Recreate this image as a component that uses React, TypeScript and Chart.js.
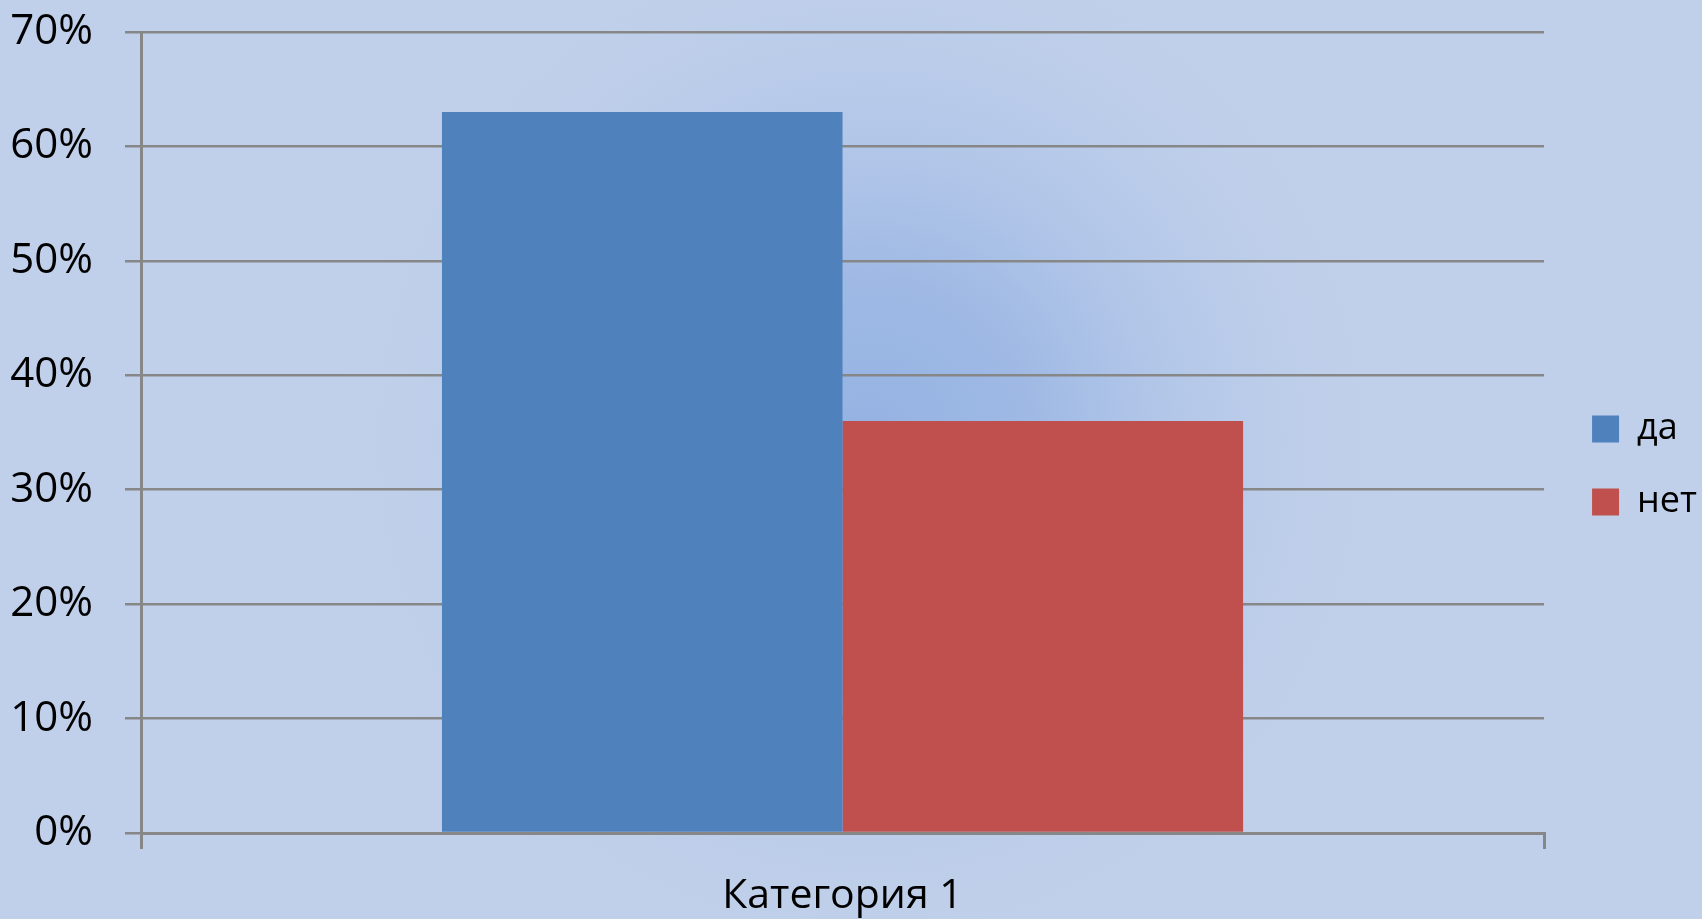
import React, { useEffect, useRef } from "react";
import { Chart, registerables } from "chart.js";

Chart.register(...registerables);

const categories = ["Категория 1"];
const seriesNames = ["да", "нет"];
const daValues = [63];
const netValues = [36];
const yTicks = [0, 10, 20, 30, 40, 50, 60, 70];

const W = 1702;
const H = 919;
const FONT = "'Open Sans', 'Noto Sans', sans-serif";
const GRID = "#878787";

const backgroundPlugin = {
  id: "bgGlow",
  beforeDraw(chart: any) {
    const { ctx, width, height } = chart;
    ctx.save();
    ctx.fillStyle = "#C0D0EA";
    ctx.fillRect(0, 0, width, height);
    const g = ctx.createRadialGradient(870, 440, 0, 870, 440, 540);
    g.addColorStop(0, "rgba(148,178,226,1)");
    g.addColorStop(0.3, "rgba(157,184,228,0.95)");
    g.addColorStop(0.65, "rgba(178,198,233,0.6)");
    g.addColorStop(1, "rgba(192,208,234,0)");
    ctx.fillStyle = g;
    ctx.fillRect(0, 0, width, height);
    ctx.restore();
  },
};

const legendShift = {
  id: "legendShift",
  afterLayout(chart: any) {
    const l = chart.legend;
    if (!l) return;
    l.left += 11;
    l.right += 11;
    l.top -= 10;
    l.bottom -= 10;
  },
};

export default function App() {
  const ref = useRef<HTMLCanvasElement | null>(null);
  useEffect(() => {
    if (!ref.current) return;
    const chart = new Chart(ref.current, {
      type: "bar",
      data: {
        labels: categories,
        datasets: [
          {
            label: seriesNames[0],
            data: daValues,
            backgroundColor: "#4F81BD",
            borderWidth: 0,
          },
          {
            label: seriesNames[1],
            data: netValues,
            backgroundColor: "#C0504D",
            borderWidth: 0,
          },
        ],
      },
      options: {
        responsive: false,
        animation: false,
        layout: { padding: { top: 32, right: 6, bottom: 0, left: 0 } },
        datasets: {
          bar: { categoryPercentage: 0.571, barPercentage: 1 },
        },
        plugins: {
          tooltip: { enabled: false },
          legend: {
            position: "right",
            labels: {
              boxWidth: 27,
              boxHeight: 27,
              padding: 37,
              color: "#000",
              font: { family: FONT, size: 36 },
            },
          },
        },
        scales: {
          x: {
            offset: true,
            grid: {
              offset: true,
              drawOnChartArea: false,
              drawTicks: true,
              tickLength: 16,
              color: GRID,
              lineWidth: 3,
            },
            border: { display: true, color: GRID, width: 3 },
            ticks: {
              color: "#000",
              padding: 23,
              font: { family: FONT, size: 41 },
            },
            afterFit(scale: any) {
              scale.height = H - 833;
            },
          },
          y: {
            min: 0,
            max: 70,
            afterBuildTicks(scale: any) {
              scale.ticks = yTicks.map((v) => ({ value: v }));
            },
            grid: {
              drawTicks: true,
              tickLength: 16,
              color: GRID,
              lineWidth: 2.5,
            },
            border: { display: true, color: GRID, width: 3 },
            ticks: {
              color: "#000",
              padding: 32,
              font: { family: FONT, size: 42 },
              callback: (v: any) => `${v}%`,
            },
            afterFit(scale: any) {
              scale.width = 141;
              scale.paddingTop = 0;
              scale.paddingBottom = 0;
            },
          },
        },
      },
      plugins: [backgroundPlugin, legendShift],
    });
    return () => chart.destroy();
  }, []);
  return (
    <div style={{ position: "fixed", left: 0, top: 0, width: W, height: H }}>
      <canvas ref={ref} width={W} height={H} style={{ width: W, height: H, display: "block" }} />
    </div>
  );
}
